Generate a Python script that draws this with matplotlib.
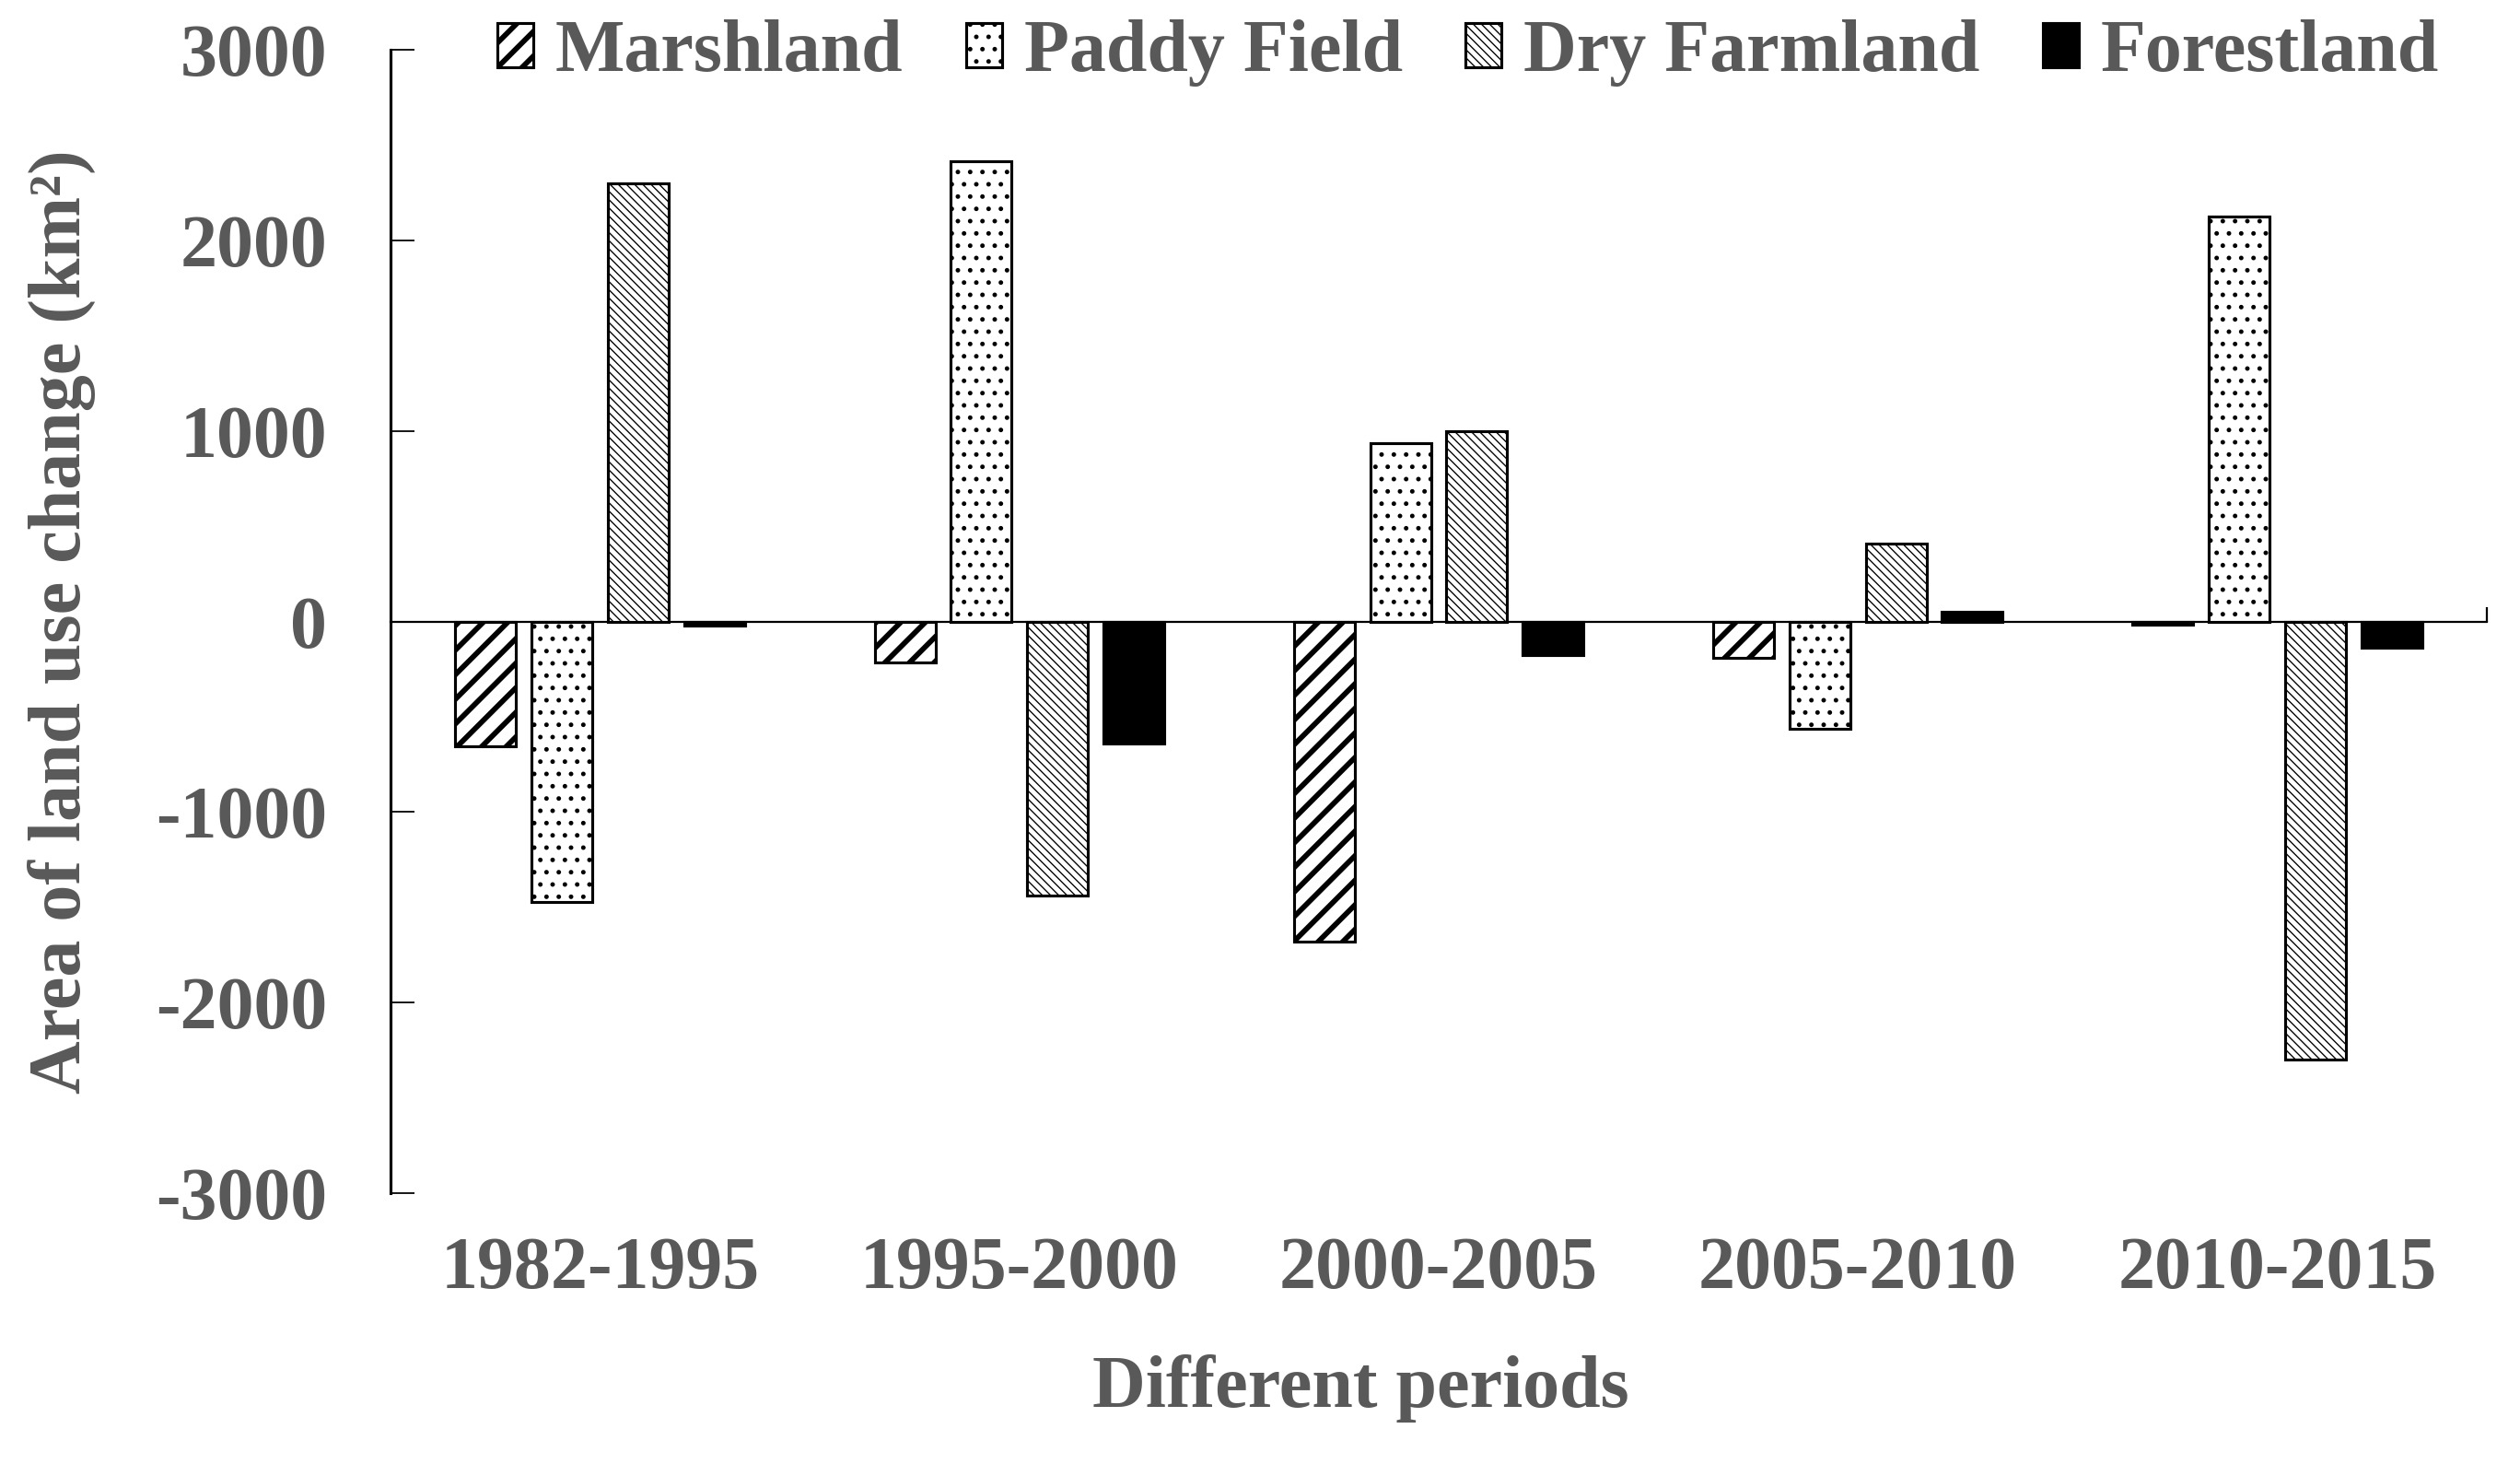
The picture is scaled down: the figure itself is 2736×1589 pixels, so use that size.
import numpy as np
import matplotlib
matplotlib.use('Agg')
import matplotlib.pyplot as plt

# land use change per period (km2)
periods = ['1982-1995', '1995-2000', '2000-2005', '2005-2010', '2010-2015']
marshland = [-655, -215, -1680, -190, -15]
paddy = [-1470, 2415, 935, -565, 2125]
dry = [2300, -1440, 1000, 410, -2300]
forest = [-20, -640, -175, 52, -140]
yticks = [-3000, -2000, -1000, 0, 1000, 2000, 3000]

plt.rcParams['font.family'] = 'Liberation Serif'
plt.rcParams['font.weight'] = 'bold'
plt.rcParams['axes.labelweight'] = 'bold'
plt.rcParams['axes.unicode_minus'] = False
txt = '#595959'


def hatch_lw(p, lw):
    # hatch line width per patch (rcParam is read at draw time)
    if hasattr(p, 'set_hatch_linewidth'):
        p.set_hatch_linewidth(lw)
    orig = p.draw

    def draw(renderer):
        with plt.rc_context({'hatch.linewidth': lw}):
            orig(renderer)
    p.draw = draw


fig = plt.figure(figsize=(2736/160, 1589/160), dpi=160)
ax = fig.add_axes([0.155, 0.185, 0.8318, 0.781])

x = np.arange(len(periods))
step = 0.182
w = 0.145
series = [('Marshland', marshland, 'white', '//', 2.6),
          ('Paddy Field', paddy, 'white', '..', 1.0),
          ('Dry Farmland', dry, 'white', '\\' * 6, 0.6),
          ('Forestland', forest, 'black', None, 1.0)]
hlw = {}
for i, (name, vals, fc, hatch, lw) in enumerate(series):
    bars = ax.bar(x + (i - 1.5)*step, vals, w, color=fc, edgecolor='black',
                  hatch=hatch, linewidth=1.4, label=name, zorder=2)
    for b in bars:
        hatch_lw(b, lw)
    hlw[name] = lw

ax.set_xlim(-0.5, len(periods) - 0.5)
ax.set_ylim(yticks[0], yticks[-1])
ax.set_yticks(yticks)
ax.set_yticklabels([str(v) for v in yticks])
ax.set_xticks(x)
ax.set_xticklabels(periods)

for s in ['top', 'right', 'bottom']:
    ax.spines[s].set_visible(False)
ax.spines['left'].set_linewidth(1.4)
ax.tick_params(axis='y', direction='in', length=11.5, width=0.8, pad=31,
               labelsize=36, labelcolor=txt)
ax.tick_params(axis='x', length=0, pad=21, labelsize=36, labelcolor=txt)

# horizontal axis crossing at zero
zx = ax.secondary_xaxis(0, transform=ax.transData)
zx.set_xticks([len(periods) - 0.5])
zx.tick_params(direction='in', length=7, width=1.0, labelbottom=False)
zx.spines['bottom'].set_linewidth(1.0)

ax.set_ylabel('Area of land use change (km²)', fontsize=36, color=txt,
              fontweight='bold')
ax.yaxis.set_label_coords(-0.1406, 0.5)
ax.set_xlabel('Different periods', fontsize=36, color=txt, fontweight='bold')
ax.xaxis.set_label_coords(0.4627, -0.141)

leg = fig.legend(loc='center', bbox_to_anchor=(0.5826, 0.9635), ncol=4,
                 frameon=False, fontsize=36, handlelength=0.49,
                 handleheight=0.55, handletextpad=0.3, columnspacing=0.85,
                 borderpad=0, borderaxespad=0)
for t in leg.get_texts():
    t.set_color(txt)
for h, t in zip(leg.legend_handles, leg.get_texts()):
    hatch_lw(h, hlw[t.get_text()])

fig.savefig('out.png', dpi=160)
